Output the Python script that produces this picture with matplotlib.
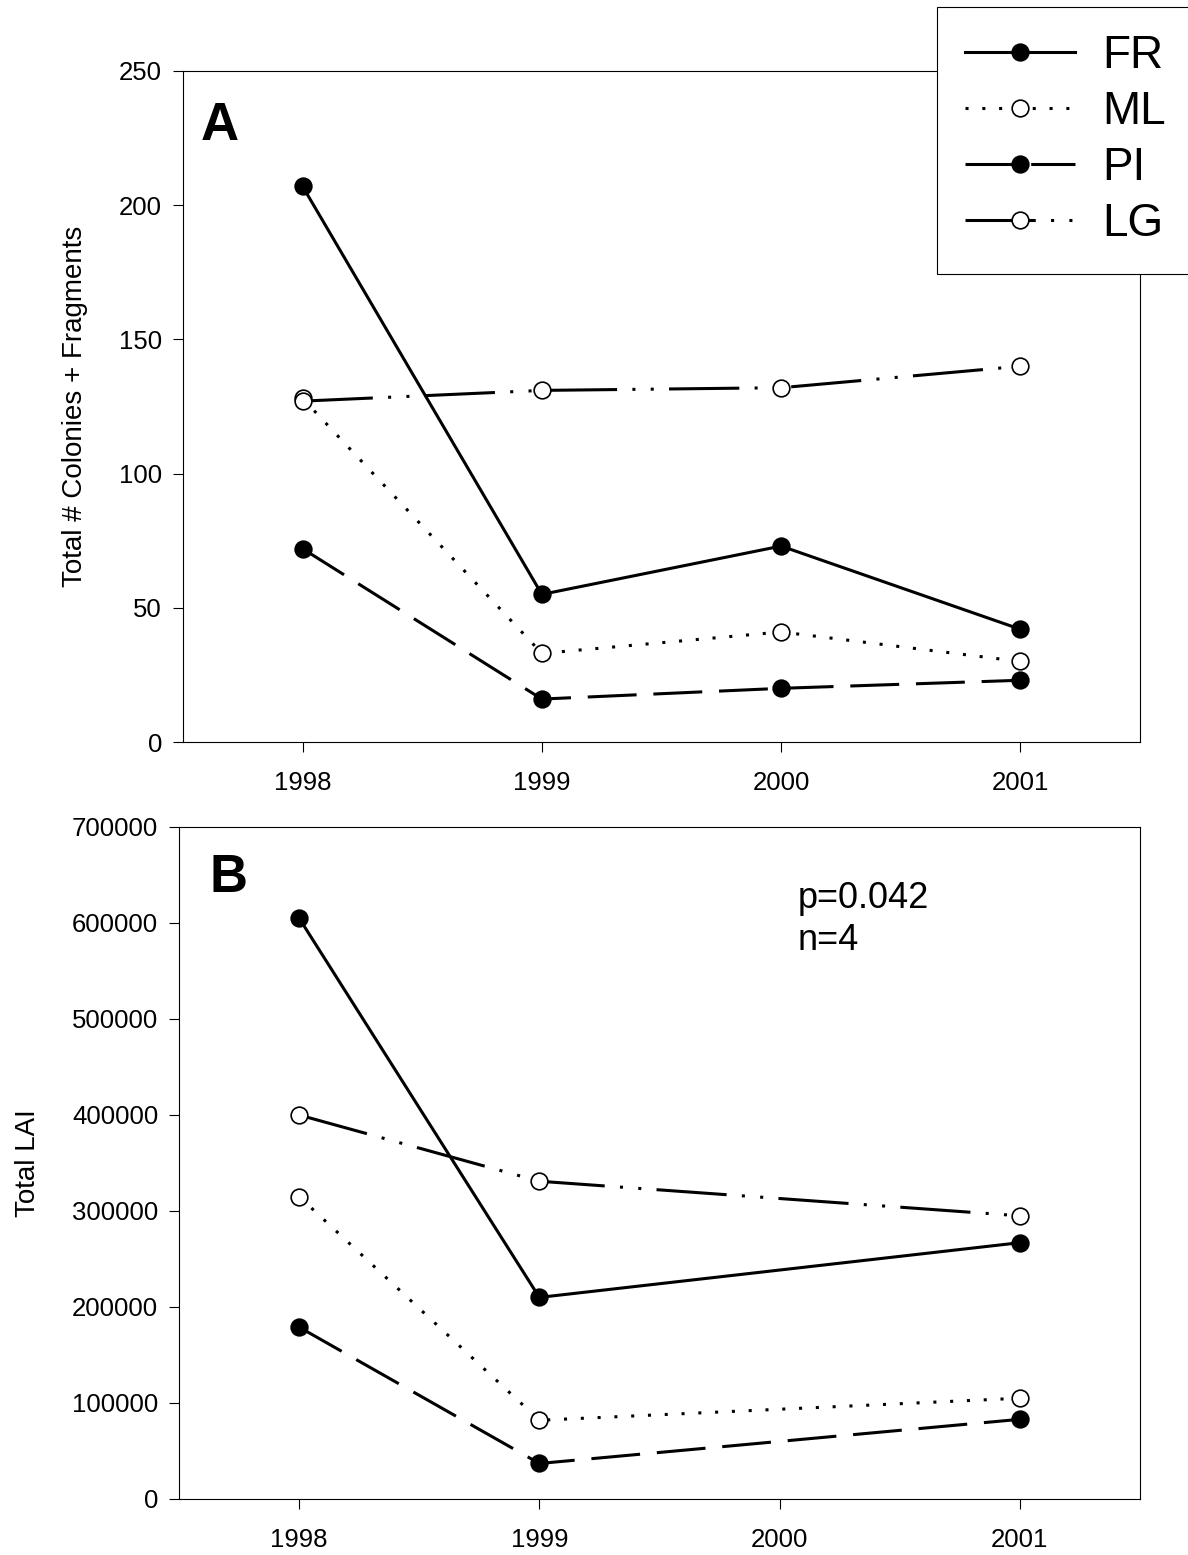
# -*- coding: utf-8 -*-
"""
Coral colonies + fragments (A) and total LAI (B) per site, 1998-2001
"""
import matplotlib
matplotlib.use('Agg')
import matplotlib.pyplot as plt

plt.rcParams['font.family'] = ['Liberation Sans', 'DejaVu Sans']

# data
years = [1998, 1999, 2000, 2001]
fr_a = [207, 55, 73, 42]
ml_a = [128, 33, 41, 30]
pi_a = [72, 16, 20, 23]
lg_a = [127, 131, 132, 140]

years_b = [1998, 1999, 2001]   # no 2000 survey for LAI
fr_b = [605000, 210000, 267000]
ml_b = [315000, 82000, 105000]
pi_b = [179000, 37000, 83000]
lg_b = [400000, 331000, 295000]

site_names = ['FR', 'ML', 'PI', 'LG']
lw = 2.2
ms = 12
styles = {
    'FR': dict(ls='-', mfc='black'),
    'ML': dict(ls=(0, (1, 4.5)), mfc='white'),
    'PI': dict(ls=(0, (16, 5.5)), mfc='black'),
    'LG': dict(ls=(0, (23, 5, 1, 5, 1, 5)), mfc='white'),
}

W, H = 1188, 1555
fig = plt.figure(figsize=(W / 100, H / 100), dpi=100)
axA = fig.add_axes([183 / W, 1 - 742 / H, (1140 - 183) / W, (742 - 71) / H])
axB = fig.add_axes([179 / W, 1 - 1499 / H, (1140 - 179) / W, (1499 - 827) / H])


def draw(ax, xs, series):
    handles = []
    for name, vals in zip(site_names, series):
        st = styles[name]
        h, = ax.plot(xs, vals, color='black', lw=lw, linestyle=st['ls'],
                     marker='o', ms=ms, mfc=st['mfc'], mec='black', mew=1.2,
                     label=name)
        handles.append(h)
    ax.set_xlim(1997.5, 2001.5)
    ax.set_xticks(years)
    ax.set_xticklabels([str(y) for y in years])
    ax.tick_params(direction='out', length=7, width=0.8, labelsize=18.5)
    ax.tick_params(axis='y', pad=8)
    ax.tick_params(axis='x', pad=14)
    for sp in ax.spines.values():
        sp.set_linewidth(0.8)
    return handles


handles = draw(axA, years, [fr_a, ml_a, pi_a, lg_a])
axA.set_ylim(0, 250)
axA.set_yticks([0, 50, 100, 150, 200, 250])
axA.set_ylabel('Total # Colonies + Fragments', fontsize=20, labelpad=22)
axA.text(0.018, 0.897, 'A', transform=axA.transAxes, fontsize=38,
         fontweight='bold', va='baseline', ha='left')

draw(axB, years_b, [fr_b, ml_b, pi_b, lg_b])
axB.set_ylim(0, 700000)
axB.set_yticks(range(0, 700001, 100000))
axB.set_ylabel('Total LAI', fontsize=20, labelpad=22)
axB.text(0.032, 0.903, 'B', transform=axB.transAxes, fontsize=38,
         fontweight='bold', va='baseline', ha='left')
axB.text(0.644, 0.8795, 'p=0.042', transform=axB.transAxes, fontsize=26,
         va='baseline', ha='left')
axB.text(0.644, 0.817, 'n=4', transform=axB.transAxes, fontsize=26,
         va='baseline', ha='left')

leg = fig.legend(handles, site_names, loc='upper left',
                 bbox_to_anchor=(937 / W, 1 - 7 / H), bbox_transform=fig.transFigure,
                 borderaxespad=0, fontsize=33, handlelength=2.4, handletextpad=0.6,
                 borderpad=0.6, labelspacing=0.26, fancybox=False,
                 edgecolor='black', framealpha=1)
leg.get_frame().set_linewidth(0.8)

fig.savefig('out.png', dpi=100)
